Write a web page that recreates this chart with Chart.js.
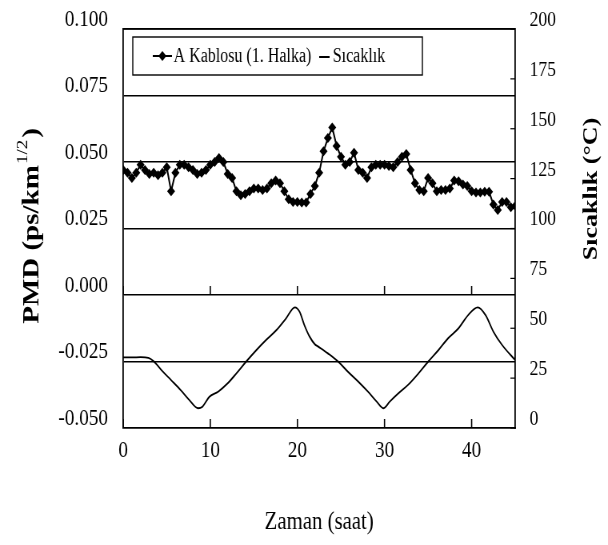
<!DOCTYPE html>
<html>
<head>
<meta charset="utf-8">
<script src="https://cdn.jsdelivr.net/npm/chart.js@4.4.0/dist/chart.umd.min.js"></script>
<style>
  html, body { margin: 0; padding: 0; background: #fff; overflow: hidden; }
  /* the original figure is squeezed sideways, so draw wide and scale down */
  #wrap { width: 760px; height: 545px; transform: scaleX(0.8); transform-origin: 0 0; }
</style>
</head>
<body>
<div id="wrap"><canvas id="chart" width="760" height="545"></canvas></div>
<script>
const pmdHours = [0, 0.5, 1, 1.5, 2, 2.5, 3, 3.5, 4, 4.5, 5, 5.5, 6, 6.5, 7, 7.5, 8, 8.5, 9, 9.5,
  10, 10.5, 11, 11.5, 12, 12.5, 13, 13.5, 14, 14.5, 15, 15.5, 16, 16.5, 17, 17.5, 18, 18.5, 19, 19.5,
  20, 20.5, 21, 21.5, 22, 22.5, 23, 23.5, 24, 24.5, 25, 25.5, 26, 26.5, 27, 27.5, 28, 28.5, 29, 29.5,
  30, 30.5, 31, 31.5, 32, 32.5, 33, 33.5, 34, 34.5, 35, 35.5, 36, 36.5, 37, 37.5, 38, 38.5, 39, 39.5,
  40, 40.5, 41, 41.5, 42, 42.5, 43, 43.5, 44, 44.5, 45];
const pmdValues = [
  0.047, 0.046, 0.044, 0.046, 0.049, 0.047, 0.0455, 0.046, 0.045, 0.046,
  0.048, 0.039, 0.046, 0.049, 0.049, 0.048, 0.047, 0.0455, 0.046, 0.047,
  0.049, 0.050, 0.0515, 0.050, 0.0455, 0.044, 0.039, 0.0375, 0.038, 0.039,
  0.040, 0.040, 0.0395, 0.040, 0.042, 0.043, 0.042, 0.039, 0.036, 0.035,
  0.035, 0.0348, 0.0348, 0.038, 0.041, 0.046, 0.054, 0.059, 0.063, 0.056,
  0.052, 0.049, 0.050, 0.0535, 0.047, 0.046, 0.044, 0.048, 0.049, 0.049,
  0.049, 0.0485, 0.048, 0.050, 0.052, 0.053, 0.047, 0.042, 0.0395, 0.039,
  0.044, 0.042, 0.039, 0.0395, 0.0395, 0.040, 0.043, 0.0428, 0.0415, 0.041,
  0.039, 0.0385, 0.0385, 0.0388, 0.0388, 0.034, 0.032, 0.035, 0.035, 0.033,
  0.0335];

const tempHours = [0, 1, 2, 2.9, 3.5, 4.5, 5.5, 6.6, 7.6, 8.6, 9.1, 9.9, 10.9, 12, 13, 14.1, 15.3, 16.4,
  17.6, 18.7, 19.7, 20.25, 20.8, 21.4, 22, 22.4, 23.5, 24.7, 25.8, 27, 28.1, 29.1, 29.9, 30.6, 31.6,
  32.7, 33.9, 35, 36.2, 37.3, 38.5, 39.6, 40.7, 41.6, 42.5, 43.5, 45];
const tempValues = [35.4, 35.4, 35.5, 35.2, 33.5, 28.5, 24, 19, 14, 9.9, 10.7, 15.7, 18.2, 22.4, 27.4,
  33.2, 39.1, 44.1, 49.1, 55, 60.5, 58.3, 51.6, 45.8, 42, 40.8, 37.4, 33.2, 28.2, 23.2, 18.2, 13.2, 9.9,
  13.2, 17.4, 21.6, 27.4, 33.2, 39.1, 45, 50, 56.6, 60.5, 56.6, 48.3, 41.6, 34];

const xTickValues = [0, 10, 20, 30, 40];
const seriesLabels = ['A Kablosu (1. Halka)', 'Sıcaklık'];

const serif = "'Liberation Serif', 'Times New Roman', serif";

// inward tick marks, top frame line, axis titles and the boxed legend
const extras = {
    id: 'extras',
    afterDraw(chart) {
        const ctx = chart.ctx;
        const area = chart.chartArea;
        const xs = chart.scales.x, ys = chart.scales.y, ys1 = chart.scales.y1;
        ctx.save();
        ctx.strokeStyle = '#000';
        ctx.fillStyle = '#000';

        // top edge of the plot frame
        ctx.lineWidth = 1.5;
        ctx.beginPath();
        ctx.moveTo(area.left, area.top);
        ctx.lineTo(area.right, area.top);
        ctx.stroke();

        // x ticks point up from the bottom edge and from the zero line
        ctx.lineWidth = 1.6;
        const zeroY = ys.getPixelForValue(0);
        xTickValues.forEach(v => {
            const px = xs.getPixelForValue(v);
            [area.bottom, zeroY].forEach(base => {
                ctx.beginPath();
                ctx.moveTo(px, base);
                ctx.lineTo(px, base - 9);
                ctx.stroke();
            });
        });

        // right axis ticks point into the plot
        ctx.lineWidth = 1.2;
        ys1.ticks.forEach(t => {
            const py = ys1.getPixelForValue(t.value);
            ctx.beginPath();
            ctx.moveTo(area.right, py);
            ctx.lineTo(area.right - 6, py);
            ctx.stroke();
        });

        // left title with superscript
        ctx.save();
        ctx.translate(41, 226);
        ctx.rotate(-Math.PI / 2);
        ctx.textAlign = 'left';
        ctx.textBaseline = 'middle';
        const main = 'PMD (ps/km', sup = '1/2', end = ')';
        ctx.font = `bold 29px ${serif}`;
        const w1 = ctx.measureText(main).width;
        const w3 = ctx.measureText(end).width;
        ctx.font = `19px ${serif}`;
        const w2 = ctx.measureText(sup).width;
        let sx = -(w1 + w2 + w3 + 3) / 2;
        ctx.font = `bold 29px ${serif}`;
        ctx.fillText(main, sx, 0);
        sx += w1 + 1;
        ctx.font = `19px ${serif}`;
        ctx.fillText(sup, sx, -12);
        sx += w2 + 2;
        ctx.font = `bold 29px ${serif}`;
        ctx.fillText(end, sx, 0);
        ctx.restore();

        // right title
        ctx.save();
        ctx.translate(739, 189);
        ctx.rotate(-Math.PI / 2);
        ctx.textAlign = 'center';
        ctx.textBaseline = 'middle';
        ctx.font = `bold 26px ${serif}`;
        ctx.fillText('Sıcaklık (°C)', 0, 0);
        ctx.restore();

        // legend box
        ctx.fillStyle = '#fff';
        ctx.fillRect(166, 37, 362, 38);
        ctx.lineWidth = 1.4;
        ctx.strokeRect(166, 37, 362, 38);
        ctx.fillStyle = '#000';
        ctx.lineWidth = 2;
        ctx.beginPath();
        ctx.moveTo(191, 56);
        ctx.lineTo(215, 56);
        ctx.stroke();
        ctx.beginPath();
        ctx.moveTo(203, 51);
        ctx.lineTo(208, 56);
        ctx.lineTo(203, 61);
        ctx.lineTo(198, 56);
        ctx.closePath();
        ctx.fill();
        ctx.beginPath();
        ctx.moveTo(399, 57);
        ctx.lineTo(412, 57);
        ctx.stroke();
        ctx.font = `20px ${serif}`;
        ctx.textAlign = 'left';
        ctx.textBaseline = 'middle';
        ctx.fillText(seriesLabels[0], 217, 57);
        ctx.fillText(seriesLabels[1], 416, 57);
        ctx.restore();
    }
};

// a blank second line lifts each label a little above its gridline, as in the original
const liftLabel = text => [text, ''];

// fixed axis box sizes; labels may hang past the plot edges without moving them
const fixWidth = w => s => { s.width = w; s.paddingTop = 0; s.paddingBottom = 0; };

new Chart(document.getElementById('chart'), {
    type: 'line',
    data: {
        datasets: [{
            label: seriesLabels[0],
            data: pmdHours.map((h, i) => ({ x: h, y: pmdValues[i] })),
            yAxisID: 'y',
            borderColor: '#000',
            backgroundColor: '#000',
            borderWidth: 2,
            pointStyle: 'rectRot',
            pointRadius: 5,
            pointBorderWidth: 0,
            tension: 0
        }, {
            label: seriesLabels[1],
            data: tempHours.map((h, i) => ({ x: h, y: tempValues[i] })),
            yAxisID: 'y1',
            borderColor: '#000',
            borderWidth: 1.8,
            pointRadius: 0,
            cubicInterpolationMode: 'monotone'
        }]
    },
    options: {
        responsive: false,
        animation: false,
        layout: { padding: { top: 29, left: 0, right: 0, bottom: 0 } },
        plugins: {
            legend: { display: false },
            tooltip: { enabled: false }
        },
        scales: {
            x: {
                type: 'linear',
                min: 0,
                max: 45,
                afterBuildTicks: s => { s.ticks = xTickValues.map(v => ({ value: v })); },
                afterFit: s => { s.height = 117; s.paddingLeft = 0; s.paddingRight = 0; },
                ticks: { color: '#000', font: { family: serif, size: 24 }, padding: 8 },
                grid: { display: false, drawTicks: false },
                border: { color: '#000', width: 1.5 },
                title: {
                    display: true,
                    text: 'Zaman (saat)',
                    color: '#000',
                    font: { family: serif, size: 26 },
                    padding: { top: 0, bottom: 7 }
                }
            },
            y: {
                position: 'left',
                min: -0.05,
                max: 0.1,
                afterFit: fixWidth(154),
                ticks: {
                    stepSize: 0.025,
                    color: '#000',
                    font: { family: serif, size: 24, lineHeight: 0.8 },
                    padding: 19,
                    callback: v => liftLabel(Math.abs(v) < 1e-9 ? '0.000' : v.toFixed(3))
                },
                grid: { color: '#000', lineWidth: 1.5, drawTicks: false },
                border: { color: '#000', width: 1.8 }
            },
            y1: {
                position: 'right',
                min: 0,
                max: 200,
                afterFit: fixWidth(116),
                ticks: {
                    stepSize: 25,
                    color: '#000',
                    font: { family: serif, size: 22, lineHeight: 0.8 },
                    padding: 18,
                    callback: v => liftLabel(String(v))
                },
                grid: { drawOnChartArea: false, drawTicks: false },
                border: { color: '#000', width: 1.8 }
            }
        }
    },
    plugins: [extras]
});
</script>
</body>
</html>
